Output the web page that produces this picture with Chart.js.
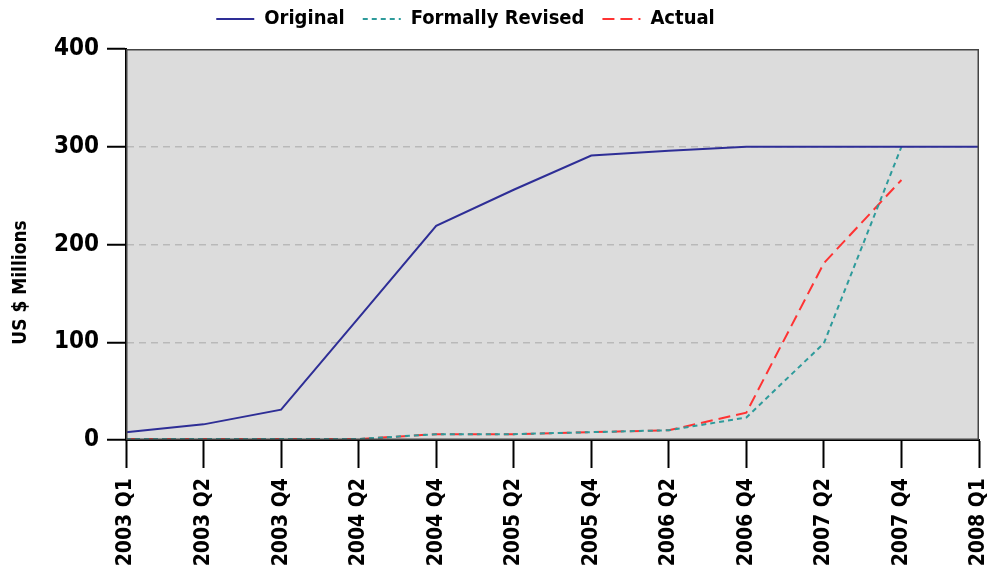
<!DOCTYPE html>
<html>
<head>
<meta charset="utf-8">
<script src="https://cdn.jsdelivr.net/npm/chart.js@4"></script>
<style>
    body { margin: 0; background: #ffffff; }
    #wrap { width: 988px; height: 576px; }
</style>
</head>
<body>
<div id="wrap"><canvas id="chart" width="988" height="576"></canvas></div>
<script>
const quarters = ['2003 Q1', '2003 Q2', '2003 Q4', '2004 Q2', '2004 Q4', '2005 Q2',
    '2005 Q4', '2006 Q2', '2006 Q4', '2007 Q2', '2007 Q4', '2008 Q1'];
const original = [8, 16, 31, 125, 219, 256, 291, 296, 300, 300, 300, 300];
const formallyRevised = [1, 1, 1, 1, 6, 6, 8, 10, 23, 99, 300, null];
const actual = [1, 1, 1, 1, 6, 6, 8, 10, 28, 181, 266, null];
const yTicks = [0, 100, 200, 300, 400];
const yTitle = 'US $ Millions';

const fontFamily = "'DejaVu Sans Condensed', 'DejaVu Sans', sans-serif";

// grey plot background, frame, and the y axis title (sits a bit below centre in the original)
const plotFrame = {
    id: 'plotFrame',
    afterLayout(chart) {
        // legend sits higher and a little left of where chart.js puts it
        chart.legend.top -= 10;
        chart.legend.bottom -= 10;
        chart.legend.left -= 24;
        chart.legend.right -= 24;
    },
    beforeDraw(chart) {
        const { ctx, chartArea: a } = chart;
        ctx.save();
        ctx.fillStyle = '#dcdcdc';
        ctx.fillRect(a.left, a.top, a.right - a.left, a.bottom - a.top);
        ctx.restore();
    },
    afterDraw(chart) {
        const { ctx, chartArea: a } = chart;
        ctx.save();
        ctx.strokeStyle = '#444444';
        ctx.lineWidth = 1.5;
        ctx.strokeRect(a.left + 0.75, a.top + 0.75, a.right - a.left - 1.5, a.bottom - a.top - 1.5);

        ctx.translate(21, (a.top + a.bottom) / 2 + 38);
        ctx.rotate(-Math.PI / 2);
        ctx.fillStyle = '#000000';
        ctx.font = 'bold 19px ' + fontFamily;
        ctx.textAlign = 'center';
        ctx.textBaseline = 'middle';
        ctx.fillText(yTitle, 0, 0);
        ctx.restore();
    }
};

new Chart(document.getElementById('chart').getContext('2d'), {
    type: 'line',
    data: {
        labels: quarters,
        datasets: [{
            label: 'Original',
            data: original,
            borderColor: '#2e2e96',
            backgroundColor: '#2e2e96',
            borderWidth: 2,
            pointRadius: 0,
            pointStyle: 'line',
            tension: 0
        }, {
            label: 'Formally Revised',
            data: formallyRevised,
            borderColor: '#2e9b9b',
            backgroundColor: '#2e9b9b',
            borderWidth: 2,
            borderDash: [5, 4],
            pointRadius: 0,
            pointStyle: 'line',
            tension: 0
        }, {
            label: 'Actual',
            data: actual,
            borderColor: '#ff3333',
            backgroundColor: '#ff3333',
            borderWidth: 2,
            borderDash: [12, 6],
            pointRadius: 0,
            pointStyle: 'line',
            tension: 0
        }]
    },
    options: {
        responsive: false,
        animation: false,
        layout: { padding: { top: 0, right: 9, left: 0, bottom: 0 } },
        plugins: {
            legend: {
                position: 'top',
                labels: {
                    usePointStyle: true,
                    pointStyle: 'line',
                    pointStyleWidth: 38,
                    padding: 18,
                    color: '#000000',
                    font: { family: fontFamily, size: 20, weight: 'bold' },
                    generateLabels: function (chart) {
                        const items = Chart.defaults.plugins.legend.labels.generateLabels(chart);
                        items.forEach(function (item) {
                            const ds = chart.data.datasets[item.datasetIndex];
                            item.lineDash = ds.borderDash || [];
                            item.lineWidth = 2;
                            item.strokeStyle = ds.borderColor;
                        });
                        return items;
                    }
                }
            },
            tooltip: { enabled: false }
        },
        scales: {
            x: {
                offset: false,
                grid: {
                    drawOnChartArea: false,
                    drawTicks: true,
                    tickLength: 28,
                    tickColor: '#000000',
                    tickWidth: 2
                },
                border: { color: '#000000', width: 2 },
                ticks: {
                    autoSkip: false,
                    minRotation: 90,
                    maxRotation: 90,
                    padding: 10,
                    color: '#000000',
                    font: { family: fontFamily, size: 21, weight: 'bold' }
                },
                afterFit: function (scale) {
                    scale.height = 136;
                    scale.paddingRight = 9;
                }
            },
            y: {
                min: 0,
                max: 400,
                afterBuildTicks: function (scale) {
                    scale.ticks = yTicks.map(v => ({ value: v }));
                },
                grid: {
                    color: function (c) {
                        return (c.tick && (c.tick.value === 0 || c.tick.value === 400)) ? 'rgba(0,0,0,0)' : '#b9b9b9';
                    },
                    lineWidth: 1.5,
                    tickColor: '#000000',
                    tickWidth: 2,
                    tickBorderDash: [],
                    tickLength: 19
                },
                border: { color: '#000000', width: 2, dash: [7, 5] },
                ticks: {
                    padding: 8,
                    color: '#000000',
                    font: { family: fontFamily, size: 24, weight: 'bold' }
                },
                afterFit: function (scale) {
                    scale.width = 126;
                    scale.paddingTop = 49;
                }
            }
        }
    },
    plugins: [plotFrame]
});
</script>
</body>
</html>
